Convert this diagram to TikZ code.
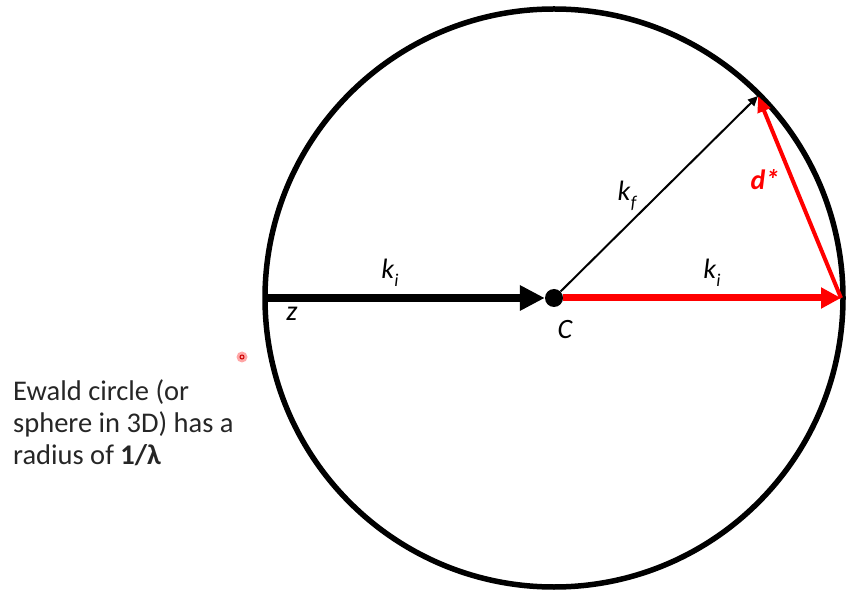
\documentclass[tikz,border=0pt]{standalone}
\usepackage{fontspec}
\setmainfont{Carlito}
\usetikzlibrary{arrows.meta}
\definecolor{rd}{RGB}{255,0,0}
\newcommand{\sub}[2]{\textit{#1}\raisebox{-0.28em}{\fontsize{18}{18}\selectfont\itshape #2}}
\begin{document}
\begin{tikzpicture}[x=1pt,y=-1pt,
  lbl/.style={font=\fontsize{28}{32}\selectfont},
  ewald/.style={line width=5.5pt},
  incoming/.style={line width=8pt,-{Triangle[length=25pt,width=24pt]}},
  scattered/.style={line width=7pt,rd,-{Triangle[length=20pt,width=20pt]}},
  kfarrow/.style={line width=2pt,-{Triangle[length=10pt,width=9pt]}},
  dstar/.style={line width=4pt,rd,-{Triangle[length=16pt,width=13pt]}}]
\useasboundingbox (0,0) rectangle (846,593);
\node[circle,fill=black,inner sep=0pt,minimum size=18pt] (C) at (554,298) {};
\draw[ewald] (C.center) circle[radius=289];
\coordinate (L) at (265,298);
\coordinate (R) at (841,298);
\coordinate (T) at (758,96);
\draw[incoming] (L) -- (C);
\draw[kfarrow] (C) -- (T);
\draw[scattered] (C) -- (R);
\draw[dstar] (R) -- (T);
\node[lbl] (ki1) at (390,273) {\sub{k}{i}};
\node[lbl] (ki2) at (712,273) {\sub{k}{i}};
\node[lbl] (kf) at (627,196) {\sub{k}{f}};
\node[lbl,text=rd,font=\fontsize{28}{32}\selectfont\bfseries\itshape] (ds) at (765,180) {d*};
\node[lbl,font=\fontsize{28}{32}\selectfont\itshape] (z) at (292,314) {z};
\node[lbl,font=\fontsize{28}{32}\selectfont\itshape] (Cl) at (565,330) {C};
\node[circle,fill=rd!35,inner sep=0pt,minimum size=11pt] (dot) at (242,357) {};
\node[circle,draw=rd!80!black,line width=1pt,inner sep=0pt,minimum size=4pt] (dotc) at (dot.center) {};
\node[anchor=base west,align=left,inner sep=0pt,font=\fontsize{28.5}{32}\selectfont,text=black!85] (txt) at (13,464)
  {Ewald circle (or\\ sphere in 3D) has a\\ radius of \textbf{1/λ}};
\end{tikzpicture}
\end{document}
